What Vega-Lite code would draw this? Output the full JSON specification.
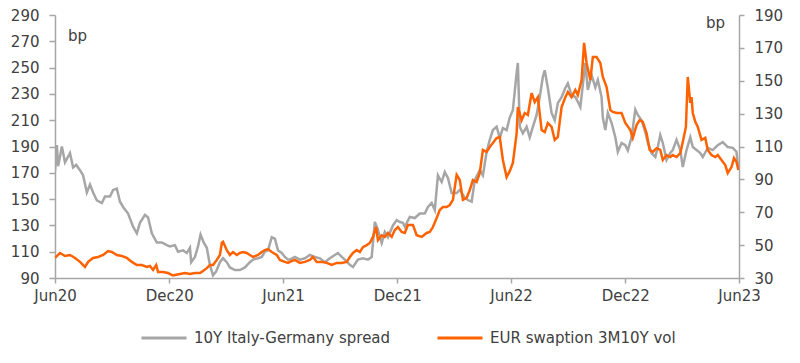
{
  "$schema": "https://vega.github.io/schema/vega-lite/v6.json",
  "width": 684,
  "height": 263,
  "autosize": {"type": "none"},
  "padding": {"left": 55, "top": 15, "right": 61, "bottom": 85},
  "config": {
    "view": {"stroke": null},
    "font": "DejaVu Sans",
    "axis": {"labelFont": "DejaVu Sans", "labelFontSize": 15, "labelColor": "#404040", "domainColor": "#a6a6a6", "tickColor": "#a6a6a6", "domainWidth": 1.5, "tickWidth": 1.5, "grid": false, "titleFont": "DejaVu Sans", "titleFontSize": 15, "titleFontWeight": "normal", "titleColor": "#404040"},
    "legend": {"labelFont": "DejaVu Sans", "labelFontSize": 15, "labelColor": "#404040", "labelLimit": 0}
  },
  "datasets": {
    "spread": [
      {"d":"2020-06-01","v":171},{"d":"2020-06-04","v":191},{"d":"2020-06-06","v":175},{"d":"2020-06-12","v":190},{"d":"2020-06-17","v":178},{"d":"2020-06-25","v":185},{"d":"2020-06-30","v":174},{"d":"2020-07-05","v":176},{"d":"2020-07-11","v":172},{"d":"2020-07-16","v":168},{"d":"2020-07-22","v":155},{"d":"2020-07-27","v":161},{"d":"2020-08-01","v":155},{"d":"2020-08-07","v":149},{"d":"2020-08-15","v":147},{"d":"2020-08-20","v":152},{"d":"2020-08-28","v":152},{"d":"2020-09-02","v":157},{"d":"2020-09-08","v":158},{"d":"2020-09-13","v":148},{"d":"2020-09-18","v":144},{"d":"2020-09-26","v":139},{"d":"2020-10-04","v":129},{"d":"2020-10-10","v":124},{"d":"2020-10-15","v":132},{"d":"2020-10-23","v":138},{"d":"2020-10-28","v":136},{"d":"2020-11-03","v":124},{"d":"2020-11-11","v":117},{"d":"2020-11-19","v":117},{"d":"2020-11-27","v":115},{"d":"2020-12-02","v":114},{"d":"2020-12-10","v":115},{"d":"2020-12-15","v":110},{"d":"2020-12-23","v":111},{"d":"2020-12-29","v":109},
      {"d":"2021-01-03","v":113},{"d":"2021-01-05","v":102},{"d":"2021-01-11","v":106},{"d":"2021-01-16","v":114},{"d":"2021-01-20","v":123},{"d":"2021-01-25","v":117},{"d":"2021-01-30","v":113},{"d":"2021-02-04","v":100},{"d":"2021-02-09","v":92},{"d":"2021-02-14","v":95},{"d":"2021-02-20","v":102},{"d":"2021-02-25","v":105},{"d":"2021-03-03","v":102},{"d":"2021-03-08","v":98},{"d":"2021-03-16","v":96},{"d":"2021-03-24","v":96},{"d":"2021-04-01","v":98},{"d":"2021-04-09","v":102},{"d":"2021-04-14","v":104},{"d":"2021-04-22","v":105},{"d":"2021-04-28","v":106},{"d":"2021-05-03","v":110},{"d":"2021-05-08","v":111},{"d":"2021-05-14","v":121},{"d":"2021-05-19","v":120},{"d":"2021-05-24","v":111},{"d":"2021-05-30","v":109},{"d":"2021-06-04","v":106},{"d":"2021-06-09","v":104},{"d":"2021-06-12","v":104},{"d":"2021-06-20","v":106},{"d":"2021-06-28","v":104},{"d":"2021-07-06","v":105},{"d":"2021-07-14","v":107.5},{"d":"2021-07-22","v":106},{"d":"2021-07-30","v":105},{"d":"2021-08-07","v":102},{"d":"2021-08-15","v":105},{"d":"2021-08-23","v":107.5},{"d":"2021-08-28","v":109},{"d":"2021-09-03","v":106},{"d":"2021-09-08","v":104},{"d":"2021-09-16","v":100},{"d":"2021-09-21","v":98.4},{"d":"2021-09-29","v":104},{"d":"2021-10-07","v":105},{"d":"2021-10-15","v":104},{"d":"2021-10-21","v":106},{"d":"2021-10-26","v":132.6},{"d":"2021-10-31","v":126.5},{"d":"2021-11-06","v":116.6},{"d":"2021-11-11","v":125},{"d":"2021-11-16","v":121},{"d":"2021-11-24","v":130},{"d":"2021-11-30","v":134},{"d":"2021-12-05","v":132.6},{"d":"2021-12-10","v":132},{"d":"2021-12-13","v":129},{"d":"2021-12-21","v":136.4},{"d":"2021-12-29","v":135.6},
      {"d":"2022-01-06","v":139},{"d":"2022-01-14","v":139},{"d":"2022-01-19","v":144},{"d":"2022-01-25","v":147},{"d":"2022-01-30","v":141.7},{"d":"2022-02-04","v":168},{"d":"2022-02-10","v":163},{"d":"2022-02-15","v":170.6},{"d":"2022-02-20","v":166},{"d":"2022-02-26","v":154.6},{"d":"2022-03-06","v":154.6},{"d":"2022-03-11","v":157},{"d":"2022-03-19","v":151},{"d":"2022-03-24","v":149.3},{"d":"2022-03-30","v":148},{"d":"2022-04-04","v":164.5},{"d":"2022-04-12","v":172},{"d":"2022-04-17","v":168},{"d":"2022-04-23","v":186},{"d":"2022-04-28","v":195},{"d":"2022-05-03","v":202.5},{"d":"2022-05-09","v":205},{"d":"2022-05-14","v":196.5},{"d":"2022-05-19","v":204},{"d":"2022-05-25","v":202.5},{"d":"2022-05-30","v":212},{"d":"2022-06-04","v":217.8},{"d":"2022-06-10","v":246},{"d":"2022-06-12","v":253.5},{"d":"2022-06-15","v":205},{"d":"2022-06-20","v":200},{"d":"2022-06-26","v":205},{"d":"2022-07-01","v":197},{"d":"2022-07-06","v":205},{"d":"2022-07-12","v":214},{"d":"2022-07-17","v":227.6},{"d":"2022-07-22","v":243},{"d":"2022-07-25","v":248},{"d":"2022-07-30","v":234.5},{"d":"2022-08-05","v":215.5},{"d":"2022-08-10","v":210},{"d":"2022-08-15","v":223},{"d":"2022-08-21","v":227.6},{"d":"2022-08-27","v":234.5},{"d":"2022-08-31","v":238},{"d":"2022-09-06","v":229},{"d":"2022-09-12","v":227.6},{"d":"2022-09-16","v":224},{"d":"2022-09-20","v":220},{"d":"2022-09-24","v":236.8},{"d":"2022-09-28","v":253.5},{"d":"2022-10-02","v":233},{"d":"2022-10-08","v":244.4},{"d":"2022-10-14","v":235},{"d":"2022-10-18","v":240.6},{"d":"2022-10-24","v":227.6},{"d":"2022-10-26","v":212},{"d":"2022-10-30","v":202.5},{"d":"2022-11-03","v":215.5},{"d":"2022-11-09","v":208},{"d":"2022-11-15","v":197},{"d":"2022-11-19","v":186},{"d":"2022-11-25","v":192.7},{"d":"2022-12-01","v":191},{"d":"2022-12-05","v":187},{"d":"2022-12-11","v":197},{"d":"2022-12-17","v":218},{"d":"2022-12-21","v":214},{"d":"2022-12-27","v":210},
      {"d":"2023-01-02","v":201},{"d":"2023-01-06","v":193},{"d":"2023-01-12","v":185},{"d":"2023-01-18","v":182},{"d":"2023-01-22","v":189.6},{"d":"2023-01-26","v":198.7},{"d":"2023-01-30","v":192.7},{"d":"2023-02-05","v":179.7},{"d":"2023-02-11","v":185},{"d":"2023-02-15","v":187.3},{"d":"2023-02-21","v":195},{"d":"2023-02-27","v":187.3},{"d":"2023-03-03","v":174.4},{"d":"2023-03-09","v":187.3},{"d":"2023-03-15","v":197},{"d":"2023-03-19","v":189.6},{"d":"2023-03-25","v":187.3},{"d":"2023-03-31","v":185},{"d":"2023-04-04","v":182},{"d":"2023-04-12","v":189},{"d":"2023-04-20","v":187.3},{"d":"2023-04-28","v":191},{"d":"2023-05-06","v":193.4},{"d":"2023-05-14","v":189.6},{"d":"2023-05-22","v":189},{"d":"2023-05-28","v":186},{"d":"2023-05-31","v":172}
    ],
    "vol": [
      {"d":"2020-06-01","v":42.2},{"d":"2020-06-09","v":45.2},{"d":"2020-06-17","v":43.4},{"d":"2020-06-25","v":44},{"d":"2020-07-03","v":42.2},{"d":"2020-07-11","v":39.8},{"d":"2020-07-19","v":36.7},{"d":"2020-07-24","v":39.8},{"d":"2020-08-01","v":42.2},{"d":"2020-08-09","v":42.8},{"d":"2020-08-17","v":44},{"d":"2020-08-25","v":46.4},{"d":"2020-08-31","v":45.8},{"d":"2020-09-08","v":44},{"d":"2020-09-16","v":43.4},{"d":"2020-09-24","v":42.2},{"d":"2020-10-02","v":39.8},{"d":"2020-10-10","v":37.9},{"d":"2020-10-18","v":37.9},{"d":"2020-10-26","v":36.7},{"d":"2020-10-31","v":37.3},{"d":"2020-11-05","v":34.9},{"d":"2020-11-10","v":37.9},{"d":"2020-11-13","v":33.6},{"d":"2020-11-21","v":33.6},{"d":"2020-11-29","v":33},{"d":"2020-12-07","v":31.5},{"d":"2020-12-10","v":31.8},{"d":"2020-12-18","v":32.4},{"d":"2020-12-26","v":33},
      {"d":"2021-01-03","v":32.4},{"d":"2021-01-11","v":33},{"d":"2021-01-19","v":33},{"d":"2021-01-24","v":34.3},{"d":"2021-01-30","v":36},{"d":"2021-02-04","v":37.9},{"d":"2021-02-09","v":37.9},{"d":"2021-02-15","v":41},{"d":"2021-02-20","v":44},{"d":"2021-02-23","v":51.3},{"d":"2021-02-25","v":52},{"d":"2021-03-03","v":47},{"d":"2021-03-08","v":44},{"d":"2021-03-13","v":45.8},{"d":"2021-03-19","v":44},{"d":"2021-03-24","v":45.2},{"d":"2021-03-29","v":45.8},{"d":"2021-04-04","v":45.2},{"d":"2021-04-09","v":44},{"d":"2021-04-14","v":42.8},{"d":"2021-04-22","v":44},{"d":"2021-04-28","v":45.8},{"d":"2021-05-03","v":47},{"d":"2021-05-08","v":47.6},{"d":"2021-05-14","v":45.8},{"d":"2021-05-22","v":44},{"d":"2021-05-27","v":41},{"d":"2021-06-04","v":39.8},{"d":"2021-06-09","v":39.2},{"d":"2021-06-12","v":39.8},{"d":"2021-06-20","v":41},{"d":"2021-06-28","v":39.2},{"d":"2021-07-06","v":39.8},{"d":"2021-07-14","v":41},{"d":"2021-07-19","v":42.8},{"d":"2021-07-25","v":39.8},{"d":"2021-08-02","v":39.8},{"d":"2021-08-10","v":39.2},{"d":"2021-08-18","v":37.9},{"d":"2021-08-26","v":39.2},{"d":"2021-09-03","v":39.2},{"d":"2021-09-11","v":39.8},{"d":"2021-09-16","v":42.8},{"d":"2021-09-21","v":45.2},{"d":"2021-09-27","v":47},{"d":"2021-10-02","v":45.8},{"d":"2021-10-07","v":48.8},{"d":"2021-10-13","v":50},{"d":"2021-10-18","v":51.3},{"d":"2021-10-23","v":55},{"d":"2021-10-28","v":61},{"d":"2021-10-31","v":53},{"d":"2021-11-06","v":56},{"d":"2021-11-11","v":55},{"d":"2021-11-16","v":57.4},{"d":"2021-11-22","v":55},{"d":"2021-11-27","v":59.2},{"d":"2021-12-02","v":61},{"d":"2021-12-08","v":58},{"d":"2021-12-13","v":57.4},{"d":"2021-12-18","v":62.2},{"d":"2021-12-26","v":62.2},
      {"d":"2022-01-01","v":56},{"d":"2022-01-09","v":55},{"d":"2022-01-17","v":57.4},{"d":"2022-01-22","v":58},{"d":"2022-01-27","v":61},{"d":"2022-02-02","v":66.5},{"d":"2022-02-07","v":71.4},{"d":"2022-02-12","v":73.2},{"d":"2022-02-18","v":73.2},{"d":"2022-02-23","v":74.4},{"d":"2022-02-28","v":77.5},{"d":"2022-03-06","v":92.7},{"d":"2022-03-11","v":89.6},{"d":"2022-03-16","v":77.5},{"d":"2022-03-22","v":78.7},{"d":"2022-03-27","v":83.5},{"d":"2022-04-01","v":89.6},{"d":"2022-04-07","v":88.4},{"d":"2022-04-12","v":93.9},{"d":"2022-04-17","v":107.9},{"d":"2022-04-23","v":106.7},{"d":"2022-04-28","v":109.7},{"d":"2022-05-03","v":112.1},{"d":"2022-05-09","v":115.2},{"d":"2022-05-14","v":115.8},{"d":"2022-05-19","v":101.8},{"d":"2022-05-25","v":91.4},{"d":"2022-05-30","v":95},{"d":"2022-06-04","v":100},{"d":"2022-06-10","v":118},{"d":"2022-06-12","v":134},{"d":"2022-06-18","v":126},{"d":"2022-06-23","v":130.4},{"d":"2022-06-28","v":129.2},{"d":"2022-07-04","v":142.5},{"d":"2022-07-09","v":137},{"d":"2022-07-14","v":140},{"d":"2022-07-20","v":120},{"d":"2022-07-25","v":118.8},{"d":"2022-07-30","v":124.3},{"d":"2022-08-05","v":121.9},{"d":"2022-08-10","v":114},{"d":"2022-08-15","v":115.8},{"d":"2022-08-21","v":134},{"d":"2022-08-27","v":140},{"d":"2022-08-31","v":143.2},{"d":"2022-09-06","v":140},{"d":"2022-09-12","v":144.4},{"d":"2022-09-16","v":141.3},{"d":"2022-09-22","v":150.4},{"d":"2022-09-26","v":173},{"d":"2022-09-30","v":160.8},{"d":"2022-10-06","v":150.4},{"d":"2022-10-10","v":164.4},{"d":"2022-10-16","v":164.4},{"d":"2022-10-22","v":160.8},{"d":"2022-10-26","v":152.3},{"d":"2022-11-01","v":146.2},{"d":"2022-11-07","v":132.2},{"d":"2022-11-11","v":131},{"d":"2022-11-17","v":130.4},{"d":"2022-11-25","v":130.4},{"d":"2022-12-01","v":124.3},{"d":"2022-12-09","v":120},{"d":"2022-12-13","v":115.2},{"d":"2022-12-19","v":123},{"d":"2022-12-24","v":126},{"d":"2022-12-29","v":125},
      {"d":"2023-01-04","v":118.2},{"d":"2023-01-09","v":107.9},{"d":"2023-01-14","v":106.7},{"d":"2023-01-20","v":109},{"d":"2023-01-26","v":107.9},{"d":"2023-01-30","v":101.8},{"d":"2023-02-05","v":104.8},{"d":"2023-02-11","v":103.6},{"d":"2023-02-15","v":104.8},{"d":"2023-02-21","v":103.6},{"d":"2023-02-27","v":106},{"d":"2023-03-03","v":112.7},{"d":"2023-03-08","v":121.9},{"d":"2023-03-11","v":152.3},{"d":"2023-03-15","v":136.5},{"d":"2023-03-17","v":140},{"d":"2023-03-19","v":130.4},{"d":"2023-03-23","v":125},{"d":"2023-03-27","v":121.9},{"d":"2023-04-02","v":114},{"d":"2023-04-08","v":115.2},{"d":"2023-04-12","v":107.9},{"d":"2023-04-18","v":104.8},{"d":"2023-04-24","v":103.6},{"d":"2023-04-28","v":104.8},{"d":"2023-05-04","v":101.8},{"d":"2023-05-10","v":98.7},{"d":"2023-05-14","v":93.9},{"d":"2023-05-20","v":97.5},{"d":"2023-05-24","v":103},{"d":"2023-05-28","v":100.6},{"d":"2023-05-31","v":95.7}
    ]
  },
  "encoding": {
    "x": {
      "field": "d", "type": "temporal",
      "scale": {"type": "utc", "domain": [{"year": 2020, "month": 6, "date": 1, "utc": true}, {"year": 2023, "month": 6, "date": 1, "utc": true}]},
      "axis": {
        "title": null, "format": "%b%y", "tickSize": 5, "labelPadding": 5,
        "values": [{"year": 2020, "month": 6, "date": 1, "utc": true}, {"year": 2020, "month": 12, "date": 1, "utc": true}, {"year": 2021, "month": 6, "date": 1, "utc": true}, {"year": 2021, "month": 12, "date": 1, "utc": true}, {"year": 2022, "month": 6, "date": 1, "utc": true}, {"year": 2022, "month": 12, "date": 1, "utc": true}, {"year": 2023, "month": 6, "date": 1, "utc": true}],
        "labelFlush": false
      }
    }
  },
  "layer": [
    {
      "data": {"name": "spread"},
      "mark": {"type": "line", "strokeWidth": 2.5, "clip": true},
      "encoding": {
        "y": {
          "field": "v", "type": "quantitative",
          "scale": {"domain": [90, 290], "nice": false, "zero": false},
          "axis": {"orient": "left", "title": "bp", "titleAngle": 0, "titleX": 22, "titleY": 20, "titleAlign": "center", "titleBaseline": "middle", "values": [90, 110, 130, 150, 170, 190, 210, 230, 250, 270, 290], "tickSize": 6, "labelPadding": 10}
        },
        "color": {
          "datum": "10Y Italy-Germany spread", "type": "nominal",
          "scale": {"domain": ["10Y Italy-Germany spread", "EUR swaption 3M10Y vol"], "range": ["#a6a6a6", "#ff6200"]},
          "legend": {"title": null, "orient": "none", "direction": "horizontal", "legendX": 85, "legendY": 299, "symbolType": "stroke", "symbolSize": 2025, "symbolStrokeWidth": 3, "labelOffset": 6, "columnPadding": 40, "labelLimit": 0}
        }
      }
    },
    {
      "data": {"name": "vol"},
      "mark": {"type": "line", "strokeWidth": 2.5, "clip": true},
      "encoding": {
        "y": {
          "field": "v", "type": "quantitative",
          "scale": {"domain": [30, 190], "nice": false, "zero": false},
          "axis": {"orient": "right", "title": "bp", "titleAngle": 0, "titleX": -24, "titleY": 7, "titleAlign": "center", "titleBaseline": "middle", "values": [30, 50, 70, 90, 110, 130, 150, 170, 190], "tickSize": 5, "labelPadding": 10}
        },
        "color": {"datum": "EUR swaption 3M10Y vol", "type": "nominal"}
      }
    }
  ],
  "resolve": {"scale": {"y": "independent"}}
}
